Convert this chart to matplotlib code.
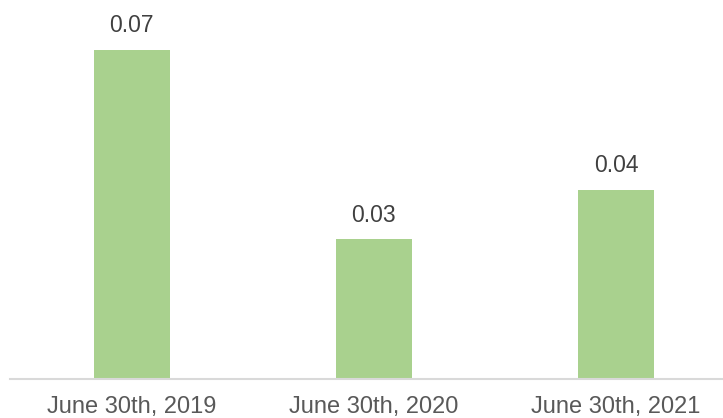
import numpy as np
import matplotlib
matplotlib.use("Agg")
import matplotlib.pyplot as plt

# Data
dates = ["June 30th, 2019", "June 30th, 2020", "June 30th, 2021"]
values = [0.066, 0.028, 0.038]
labels = ["0.07", "0.03", "0.04"]

plt.rcParams["font.family"] = ["Liberation Sans", "DejaVu Sans"]

W, H = 723, 418
fig = plt.figure(figsize=(W / 100, H / 100), dpi=100)

# axes area in pixels (the baseline runs off the right edge)
left, right, base, top = 10.5, 737, 379, 0
ax = fig.add_axes([left / W, (H - base) / H, (right - left) / W, (base - top) / H])

x = np.arange(len(dates))
bars = ax.bar(x, values, width=0.314, color="#A9D18E", zorder=2)

ax.set_xlim(-0.5, len(dates) - 0.5)
ax.set_ylim(0, 0.0760)

# value labels above bars
for b, txt in zip(bars, labels):
    ax.annotate(txt, (b.get_x() + b.get_width() / 2, b.get_height()),
                xytext=(0, 9), textcoords="offset points",
                ha="center", va="bottom", fontsize=16.5, color="#404040")

ax.set_xticks(x)
ax.set_xticklabels(dates, fontsize=17, color="#595959")
ax.tick_params(axis="x", length=0, pad=12)
ax.set_yticks([])

for s in ["top", "right", "left"]:
    ax.spines[s].set_visible(False)
ax.spines["bottom"].set_color("#D9D9D9")
ax.spines["bottom"].set_linewidth(1.5)
ax.spines["bottom"].set_clip_on(False)

fig.savefig("out.png", dpi=100)
